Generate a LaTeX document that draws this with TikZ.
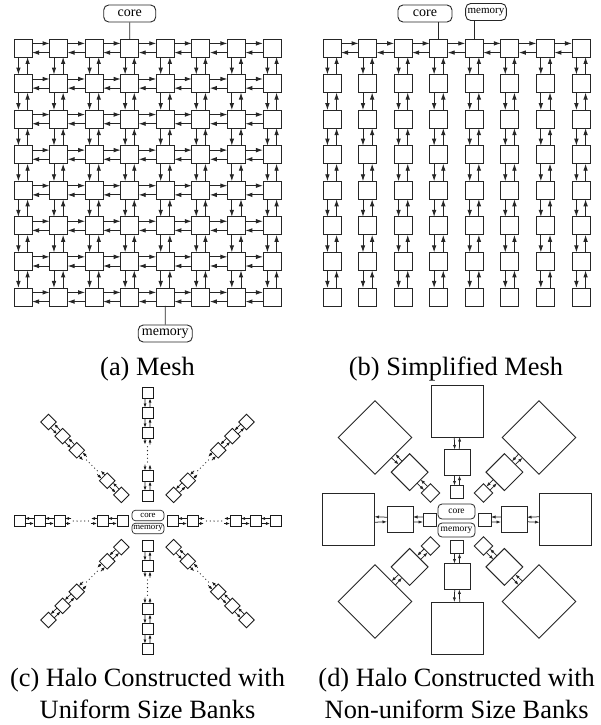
\documentclass[tikz,border=0pt]{standalone}
\usepackage{fontspec}
\setmainfont{Liberation Serif}
\usetikzlibrary{arrows.meta}
\begin{document}
\begin{tikzpicture}[x=1pt,y=-1pt,
  ln/.style={draw=black!85,line width=0.9pt},
  bankm/.style={ln,minimum size=18pt,inner sep=0pt,outer sep=0pt},
  lk/.style={draw=black!85,line width=0.9pt,-{Latex[length=7pt,width=4.6pt]}},
  tag/.style={ln,rounded corners=5pt,inner sep=0pt,minimum height=17pt,font=\fontsize{14}{14}\selectfont},
  tagb/.style={ln,rounded corners=5pt,inner xsep=2pt,inner ysep=0pt,minimum height=17pt,font=\fontsize{11}{11}\selectfont},
  bankc/.style={draw=black!90,line width=0.85pt,minimum size=11pt,inner sep=0pt,outer sep=0pt,transform shape},
  lkc/.style={draw=black!90,line width=0.7pt,-{Latex[length=4pt,width=3pt]}},
  dotc/.style={draw=black!85,line width=1.3pt,line cap=round,dash pattern=on 0pt off 3.8pt},
  tagc/.style={draw=black!85,line width=0.7pt,rounded corners=3.5pt,inner sep=0pt,minimum width=32pt,minimum height=10.5pt,font=\fontsize{8.8}{8.8}\selectfont},
  bankd/.style={draw=black!85,line width=0.9pt,inner sep=0pt,outer sep=0pt,transform shape},
  lkd/.style={draw=black!85,line width=0.75pt,-{Latex[length=4.5pt,width=3.2pt]}},
  tagd/.style={draw=black!85,line width=0.8pt,rounded corners=4pt,inner sep=0pt,minimum width=37pt,font=\fontsize{9.5}{9.5}\selectfont},
  captxt/.style={anchor=base,inner sep=0pt,font=\fontsize{26.4}{31}\selectfont}
]
\useasboundingbox (0,0) rectangle (600,725);

% ---------------- (a) Mesh and (b) Simplified Mesh ----------------
\foreach \i in {1,...,8}{
  \foreach \j in {1,...,8}{
    \node[bankm] (a-\i-\j) at ({23+35.57*(\i-1)},{48+35.57*(\j-1)}) {};
    \node[bankm] (b-\i-\j) at ({332+35.57*(\i-1)},{48+35.57*(\j-1)}) {};
  }
}
\foreach \i in {1,...,7}{
  \pgfmathtruncatemacro{\n}{\i+1}
  \foreach \j in {1,...,8}{
    \draw[lk] (a-\i-\j.27) -- (a-\n-\j.153);
    \draw[lk] (a-\n-\j.-153) -- (a-\i-\j.-27);
    \draw[lk] (a-\j-\i.-117) -- (a-\j-\n.117);
    \draw[lk] (a-\j-\n.63) -- (a-\j-\i.-63);
    \draw[lk] (b-\j-\i.-117) -- (b-\j-\n.117);
    \draw[lk] (b-\j-\n.63) -- (b-\j-\i.-63);
  }
  \draw[lk] (b-\i-1.27) -- (b-\n-1.153);
  \draw[lk] (b-\n-1.-153) -- (b-\i-1.-27);
}
\node[tag,minimum width=52pt] (corea) at (129.71,13.5) {core};
\node[tag,minimum width=54pt] (mema) at (165.28,333.5) {memory};
\draw[ln] (corea.south) -- (a-4-1.north);
\draw[ln] (a-5-8.south) -- (mema.north);

\node[tag,minimum width=54pt] (coreb) at (425,13.5) {core};
\node[tagb] (memb) at (486,12) {memory};
\draw[ln] (b-4-1.north) -- (b-4-1.north |- coreb.south);
\draw[ln] (b-5-1.north) -- (b-5-1.north |- memb.south);

\node[captxt] (capa) at (147.5,375) {(a) Mesh};
\node[captxt] (capb) at (456,375) {(b) Simplified Mesh};

% ---------------- (c) Halo, uniform ----------------
\node[tagc] (corec) at (148,515.5) {core};
\node[tagc] (memc) at (148,528.5) {memory};
\foreach \t/\o in {0/0,90/0,180/0,270/0,45/12,135/12,225/12,315/12}{
  \begin{scope}[shift={(147.5,521)},rotate=\t]
    \node[bankc] (c\t-1) at ({25+\o},0) {};
    \node[bankc] (c\t-2) at ({45+\o},0) {};
    \node[bankc] (c\t-3) at ({88+\o},0) {};
    \node[bankc] (c\t-4) at ({108+\o},0) {};
    \node[bankc] (c\t-5) at ({128+\o},0) {};
    \coordinate (c\t-so) at ({56.5+\o},2.5);
    \coordinate (c\t-si) at ({56.5+\o},-2.5);
    \coordinate (c\t-to) at ({76.5+\o},2.5);
    \coordinate (c\t-ti) at ({76.5+\o},-2.5);
    \coordinate (c\t-da) at ({59+\o},0);
    \coordinate (c\t-db) at ({75+\o},0);
  \end{scope}
  \draw[lkc] (c\t-1.-24.4) -- (c\t-2.-155.6);
  \draw[lkc] (c\t-2.155.6) -- (c\t-1.24.4);
  \draw[lkc] (c\t-3.-24.4) -- (c\t-4.-155.6);
  \draw[lkc] (c\t-4.155.6) -- (c\t-3.24.4);
  \draw[lkc] (c\t-4.-24.4) -- (c\t-5.-155.6);
  \draw[lkc] (c\t-5.155.6) -- (c\t-4.24.4);
  \draw[lkc] (c\t-2.-24.4) -- (c\t-so);
  \draw[lkc] (c\t-si) -- (c\t-2.24.4);
  \draw[lkc] (c\t-to) -- (c\t-3.-155.6);
  \draw[lkc] (c\t-3.155.6) -- (c\t-ti);
  \draw[dotc] (c\t-da) -- (c\t-db);
}
\node[captxt] (capc1) at (147.5,686.7) {(c) Halo Constructed with};
\node[captxt] (capc2) at (147.5,718) {Uniform Size Banks};

% ---------------- (d) Halo, non-uniform ----------------
\node[tagd,minimum height=15pt] (cored) at (456.5,511.5) {core};
\node[tagd,minimum height=14pt] (memd) at (456.5,530) {memory};
\foreach \t/\p/\q/\r in {0/27.5/57/108.5,90/27.5/57/108.5,180/27.5/57/108.5,270/27.5/57/108.5,45/37.5/67/116,135/37.5/67/116,225/37.5/67/116,315/37.5/67/116}{
  \begin{scope}[shift={(457,519.5)},rotate=\t]
    \node[bankd,minimum size=13pt] (d\t-1) at (\p,0) {};
    \node[bankd,minimum size=26pt] (d\t-2) at (\q,0) {};
    \node[bankd,minimum size=52pt] (d\t-3) at (\r,0) {};
  \end{scope}
  \draw[lkd] (d\t-1.-21) -- (d\t-2.-169.1);
  \draw[lkd] (d\t-2.169.1) -- (d\t-1.21);
  \draw[lkd] (d\t-2.-10.9) -- (d\t-3.-174.5);
  \draw[lkd] (d\t-3.174.5) -- (d\t-2.10.9);
}
\node[captxt] (capd1) at (456.7,686.7) {(d) Halo Constructed with};
\node[captxt] (capd2) at (456.7,718) {Non-uniform Size Banks};
\end{tikzpicture}
\end{document}
